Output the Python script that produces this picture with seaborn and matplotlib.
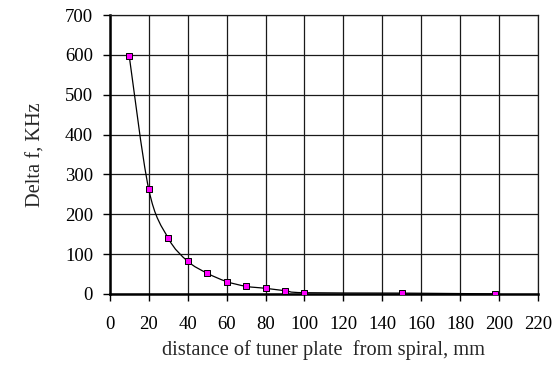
import numpy as np
import pandas as pd
import matplotlib
matplotlib.use("Agg")
import matplotlib.pyplot as plt
from matplotlib.path import Path
from matplotlib.patches import PathPatch
import seaborn as sns

# data
distance_mm = [10, 20, 30, 40, 50, 60, 70, 80, 90, 100, 150, 198]
delta_f_khz = [597, 263, 140, 82, 52, 31, 19, 14, 8, 3, 2, 0]
x_ticks = list(range(0, 221, 20))
y_ticks = list(range(0, 701, 100))

df = pd.DataFrame({"distance": distance_mm, "delta_f": delta_f_khz})

sns.set_style("white")
plt.rcParams["font.family"] = ["Liberation Serif", "DejaVu Serif"]

fig = plt.figure(figsize=(5.6, 3.66), dpi=100)
ax = fig.add_axes([0.196, 0.197, 0.765, 0.762])

# smoothed connecting line (Excel-style Catmull-Rom as cubic Beziers)
xs, ys = np.array(distance_mm, float), np.array(delta_f_khz, float)
verts, codes = [(xs[0], ys[0])], [Path.MOVETO]
n = len(xs)
for i in range(n - 1):
    p0 = np.array([xs[max(i - 1, 0)], ys[max(i - 1, 0)]])
    p1 = np.array([xs[i], ys[i]])
    p2 = np.array([xs[i + 1], ys[i + 1]])
    p3 = np.array([xs[min(i + 2, n - 1)], ys[min(i + 2, n - 1)]])
    c1 = p1 + (p2 - p0) / 6
    c2 = p2 - (p3 - p1) / 6
    verts += [tuple(c1), tuple(c2), tuple(p2)]
    codes += [Path.CURVE4] * 3
ax.add_patch(PathPatch(Path(verts, codes), fill=False, edgecolor="black", lw=0.9, zorder=3))

sns.scatterplot(data=df, x="distance", y="delta_f", ax=ax, marker="s", s=22,
                color="#ff00ff", edgecolor="black", linewidth=0.7, zorder=4)

ax.set_xlim(0, 220)
ax.set_ylim(0, 700)
ax.set_xticks(x_ticks)
ax.set_yticks(y_ticks)
ax.grid(True, color="#1a1a1a", lw=0.9)
ax.set_axisbelow(True)
for side in ["top", "right"]:
    ax.spines[side].set_linewidth(0.9)
    ax.spines[side].set_color("#1a1a1a")
for side in ["left", "bottom"]:
    ax.spines[side].set_linewidth(1.8)
    ax.spines[side].set_color("black")
ax.tick_params(axis="both", direction="out", length=5, width=1, colors="black",
               labelsize=13.5, bottom=True, left=True)
ax.tick_params(axis="x", pad=11)
ax.tick_params(axis="y", pad=7)
ax.set_xlabel("distance of tuner plate  from spiral, mm", fontsize=14.7, labelpad=5)
ax.set_ylabel("Delta f, KHz", fontsize=14.7, labelpad=14)

fig.savefig("out.png", dpi=100)
